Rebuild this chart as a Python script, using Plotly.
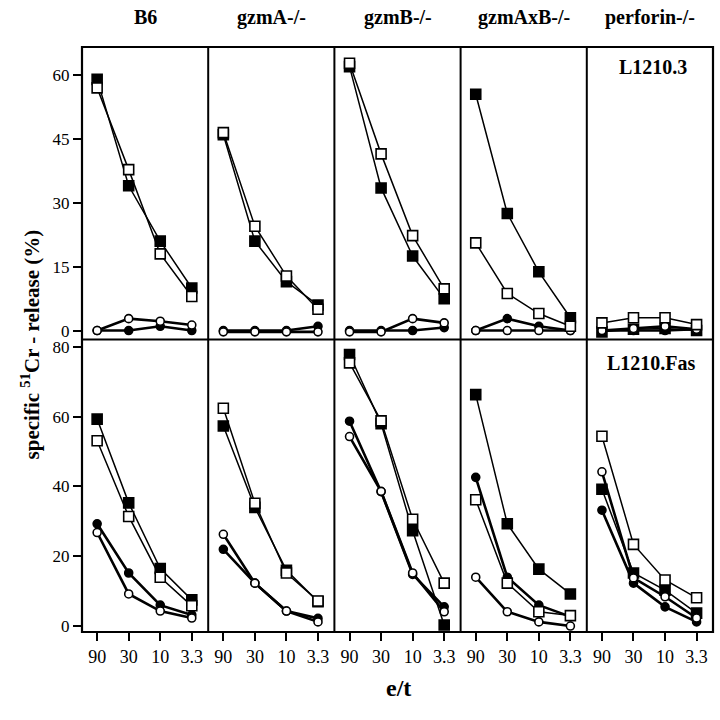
import plotly.graph_objects as go
from plotly.subplots import make_subplots

# ---------------- data ----------------
strains = ["B6", "gzmA-/-", "gzmB-/-", "gzmAxB-/-", "perforin-/-"]
et_labels = ["90", "30", "10", "3.3"]
targets = ["L1210.3", "L1210.Fas"]

# top row: L1210.3  (per strain: filled square, filled circle, open circle, open square)
l12103_filled_sq = [[59, 34, 21, 10], [46, 21, 11.5, 6], [62, 33.5, 17.5, 7.5], [55.5, 27.5, 13.8, 3], [-0.3, 0.3, 0.5, 0]]
l12103_filled_ci = [[0, 0, 1, 0], [0, 0, 0, 1], [0, 0, 0, 0.7], [0, 2.8, 1, 0], [0, 0, 0, 0.3]]
l12103_open_ci = [[0, 2.8, 2.2, 1.3], [-0.3, -0.3, -0.3, -0.3], [-0.3, -0.3, 2.8, 1.8], [0, 0, 0, 0], [0, 0.5, 1, 0.3]]
l12103_open_sq = [[57, 37.8, 18, 8], [46.5, 24.5, 12.8, 5], [62.8, 41.5, 22.3, 9.8], [20.6, 8.7, 4, 1], [1.8, 3, 3, 1.4]]

# bottom row: L1210.Fas
fas_filled_sq = [[59.3, 35.3, 16.5, 7.5], [57.3, 34, 16, 7], [77.8, 58, 27.3, 0.3], [66.3, 29.3, 16.3, 9.2], [39.2, 15.2, 10.3, 3.7]]
fas_filled_ci = [[29.3, 15.2, 6, 3.2], [22, 12.3, 4.3, 2.2], [58.7, 38.5, 14.8, 5.5], [42.6, 14, 6, 2.7], [33.2, 12.3, 5.5, 1.2]]
fas_open_ci = [[26.8, 9.2, 4.3, 2.3], [26.3, 12.3, 4.3, 1.2], [54.3, 38.6, 15.2, 4.1], [14, 4.1, 1.2, 0], [44.2, 13.8, 8.4, 2.3]]
fas_open_sq = [[53.1, 31.4, 14, 5.8], [62.4, 35.2, 15.2, 7.2], [75.4, 58.8, 30.6, 12.3], [36.2, 12.3, 4.1, 3], [54.4, 23.4, 13.2, 8.1]]

top_range = [-2.1, 66.6]
bot_range = [-1.7, 82.1]
top_ticks = [0, 15, 30, 45, 60]
bot_ticks = [0, 20, 40, 60, 80]

FONT = "Liberation Serif"

fig = make_subplots(rows=2, cols=5, horizontal_spacing=0, vertical_spacing=0)

xpos = list(range(len(et_labels)))

def add_series(row, col, ys, filled, symbol, lw, size):
    fig.add_trace(go.Scatter(
        x=xpos, y=ys, mode="lines+markers",
        line=dict(color="black", width=lw),
        marker=dict(symbol=symbol, size=size,
                    color="black" if filled else "white",
                    line=dict(color="black", width=1.6)),
        showlegend=False, hoverinfo="skip"), row=row, col=col)

for i in range(5):
    for row, (fsq, fci, oci, osq) in enumerate([
            (l12103_filled_sq, l12103_filled_ci, l12103_open_ci, l12103_open_sq),
            (fas_filled_sq, fas_filled_ci, fas_open_ci, fas_open_sq)], start=1):
        add_series(row, i + 1, fsq[i], True, "square", 1.5, 10)
        add_series(row, i + 1, fci[i], True, "circle", 2.6, 8)
        add_series(row, i + 1, oci[i], False, "circle", 2.6, 8)
        add_series(row, i + 1, osq[i], False, "square", 1.5, 10)

for row in (1, 2):
    for col in range(1, 6):
        fig.update_xaxes(row=row, col=col, range=[-0.48, 3.52],
                         showgrid=False, zeroline=False, showline=False,
                         tickmode="array", tickvals=xpos, ticktext=et_labels,
                         ticks="outside" if row == 2 else "", ticklen=8, tickwidth=1.8,
                         tickcolor="black",
                         showticklabels=(row == 2),
                         tickfont=dict(family=FONT, size=18, color="black"))
        fig.update_yaxes(row=row, col=col,
                         range=top_range if row == 1 else bot_range,
                         showgrid=False, zeroline=False, showline=False,
                         tickmode="array", tickvals=top_ticks if row == 1 else bot_ticks,
                         ticks="outside" if col == 1 else "", ticklen=8, tickwidth=1.8,
                         tickcolor="black",
                         showticklabels=(col == 1),
                         tickfont=dict(family=FONT, size=17, color="black"))

# panel frames
shapes = [dict(type="rect", xref="paper", yref="paper", x0=0, x1=1, y0=0, y1=1,
               line=dict(color="black", width=2.2))]
shapes.append(dict(type="line", xref="paper", yref="paper", x0=0, x1=1, y0=0.5, y1=0.5,
                   line=dict(color="black", width=2)))
for k in range(1, 5):
    shapes.append(dict(type="line", xref="paper", yref="paper", x0=0.2 * k, x1=0.2 * k, y0=0, y1=1,
                       line=dict(color="black", width=2)))

annotations = []
for i, s in enumerate(strains):
    annotations.append(dict(text="<b>" + s + "</b>", x=0.1 + 0.2 * i, y=1.051, xref="paper", yref="paper",
                            showarrow=False, font=dict(family=FONT, size=20, color="black"),
                            xanchor="center", yanchor="middle"))
annotations.append(dict(text="<b>" + targets[0] + "</b>", x=0.905, y=0.966, xref="paper", yref="paper",
                        showarrow=False, xanchor="center", yanchor="middle",
                        font=dict(family=FONT, size=20, color="black")))
annotations.append(dict(text="<b>" + targets[1] + "</b>", x=0.903, y=0.460, xref="paper", yref="paper",
                        showarrow=False, xanchor="center", yanchor="middle",
                        font=dict(family=FONT, size=20, color="black")))
annotations.append(dict(text="<b>specific <sup>51</sup>Cr - release (%)</b>", x=-0.082, y=0.492,
                        xref="paper", yref="paper", textangle=-90, showarrow=False,
                        xanchor="center", yanchor="middle",
                        font=dict(family=FONT, size=21, color="black")))
annotations.append(dict(text="<b>e/t</b>", x=0.501, y=-0.096, xref="paper", yref="paper",
                        showarrow=False, xanchor="center", yanchor="middle",
                        font=dict(family=FONT, size=24, color="black")))

fig.update_layout(width=720, height=720,
                  margin=dict(l=82, r=7, t=47, b=88),
                  paper_bgcolor="white", plot_bgcolor="white",
                  shapes=shapes, annotations=annotations)

fig.write_html("out.html", config={"displayModeBar": False},
               post_script="document.body.style.margin='0';")
